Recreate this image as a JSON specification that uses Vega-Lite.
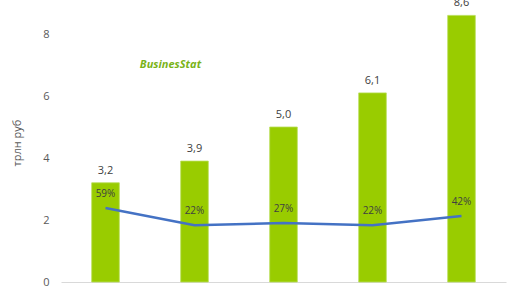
{
  "$schema": "https://vega.github.io/schema/vega-lite/v6.json",
  "width": 445,
  "height": 279,
  "autosize": "none",
  "padding": {"left": 61, "top": 3, "right": 10, "bottom": 8},
  "config": {
    "view": {"stroke": null},
    "locale": {"number": {"decimal": ",", "thousands": " ", "grouping": [3], "currency": ["", ""], "percent": "%"}},
    "font": "Open Sans"
  },
  "datasets": {
    "main": [
      {"period": "1", "value": 3.2, "growth": 0.59},
      {"period": "2", "value": 3.9, "growth": 0.22},
      {"period": "3", "value": 5.0, "growth": 0.27},
      {"period": "4", "value": 6.1, "growth": 0.22},
      {"period": "5", "value": 8.6, "growth": 0.42}
    ],
    "logo": [{"period": "2", "y": 7.0, "text": "BusinesStat"}]
  },
  "layer": [
    {
      "layer": [
        {
          "data": {"name": "main"},
          "mark": {"type": "bar", "color": "#99cc00", "stroke": "#b8dd55", "strokeWidth": 0.8},
          "encoding": {
            "x": {"field": "period", "type": "nominal", "sort": null,
                  "scale": {"paddingInner": 0.69, "paddingOuter": 0.345},
                  "axis": {"title": null, "labels": false, "ticks": false, "domainColor": "#d9d9d9", "domainWidth": 1}},
            "y": {"field": "value", "type": "quantitative",
                  "scale": {"domain": [0, 9], "nice": false},
                  "axis": {"title": "трлн  руб", "titleFontWeight": "normal", "titleFontSize": 11, "titleColor": "#595959", "titlePadding": 20,
                           "values": [0, 2, 4, 6, 8], "grid": false, "ticks": false, "domain": false,
                           "labelColor": "#595959", "labelFontSize": 11, "labelPadding": 12}}
          }
        },
        {
          "data": {"name": "main"},
          "mark": {"type": "text", "dy": -12, "fontSize": 11, "color": "#404040"},
          "encoding": {
            "x": {"field": "period", "type": "nominal", "sort": null},
            "y": {"field": "value", "type": "quantitative"},
            "text": {"field": "value", "type": "quantitative", "format": ".1f"}
          }
        },
        {
          "data": {"name": "logo"},
          "mark": {"type": "text", "dx": -24, "fontSize": 11, "fontWeight": "bold", "fontStyle": "italic", "color": "#7ab317", "font": "Open Sans"},
          "encoding": {
            "x": {"field": "period", "type": "nominal"},
            "y": {"field": "y", "type": "quantitative"},
            "text": {"field": "text"}
          }
        }
      ]
    },
    {
      "data": {"name": "main"},
      "layer": [
        {
          "mark": {"type": "line", "color": "#4472c4", "strokeWidth": 2.5},
          "encoding": {
            "x": {"field": "period", "type": "nominal", "sort": null},
            "y": {"field": "growth", "type": "quantitative", "scale": {"domain": [-1, 5], "nice": false}, "axis": null}
          }
        },
        {
          "mark": {"type": "text", "dy": -14, "fontSize": 10, "color": "#404040"},
          "encoding": {
            "x": {"field": "period", "type": "nominal", "sort": null},
            "y": {"field": "growth", "type": "quantitative", "scale": {"domain": [-1, 5], "nice": false}, "axis": null},
            "text": {"field": "growth", "type": "quantitative", "format": ".0%"}
          }
        }
      ]
    }
  ],
  "resolve": {"scale": {"y": "independent"}}
}
